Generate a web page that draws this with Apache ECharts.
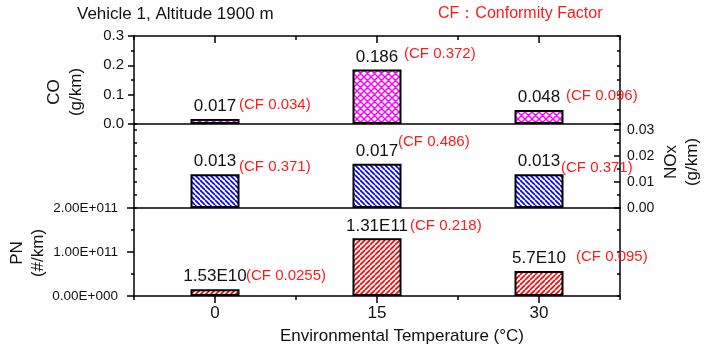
<!DOCTYPE html>
<html>
<head>
<meta charset="utf-8">
<script src="https://cdn.jsdelivr.net/npm/echarts@6/dist/echarts.min.js"></script>
<style>
  html, body { margin: 0; padding: 0; background: #fff; }
  #chart { width: 704px; height: 352px; }
</style>
</head>
<body>
<div id="chart"></div>
<script>
// data
const temps = ['0', '15', '30'];
const coValues = [0.017, 0.186, 0.048];
const noxValues = [0.013, 0.017, 0.013];
const pnValues = [1.53e10, 1.31e11, 5.7e10];
const pnText = ['1.53E10', '1.31E11', '5.7E10'];
const coCF = [0.034, 0.372, 0.096];
const noxCF = [0.371, 0.486, 0.371];
const pnCF = [0.0255, 0.218, 0.095];

const coMax = 0.3;
const noxMax = 0.0323;
const pnMax = 2e11;

const FONT = 'Liberation Sans, Arial, sans-serif';
const INK = '#111';
const RED = '#ff1a1a';
const axisLine = { color: '#000', width: 1.5 };

// hatch fill tiles
function hatch(color, size, lw, dirs) {
  const c = document.createElement('canvas');
  c.width = size;
  c.height = size;
  const ctx = c.getContext('2d');
  ctx.fillStyle = '#fff';
  ctx.fillRect(0, 0, size, size);
  ctx.strokeStyle = color;
  ctx.lineWidth = lw;
  ctx.beginPath();
  for (let k = -1; k <= 1; k++) {
    if (dirs.includes('/')) { ctx.moveTo(k * size, size); ctx.lineTo(k * size + size, 0); }
    if (dirs.includes('\\')) { ctx.moveTo(k * size, 0); ctx.lineTo(k * size + size, size); }
  }
  ctx.stroke();
  return { image: c, repeat: 'repeat' };
}

function sci(v) {
  if (v === 0) return '0.00E+000';
  const e = Math.floor(Math.log10(v) + 1e-9);
  return (v / Math.pow(10, e)).toFixed(2) + 'E+' + String(e).padStart(3, '0');
}

function catAxis(grid, position, extra) {
  return Object.assign({
    type: 'category', gridIndex: grid, position: position, data: temps, boundaryGap: true,
    axisLine: { show: false, onZero: false, lineStyle: axisLine },
    axisTick: { show: false },
    axisLabel: { show: false },
    splitLine: { show: false },
  }, extra);
}

function valAxis(grid, position, max, interval, extra) {
  return Object.assign({
    type: 'value', gridIndex: grid, position: position, min: 0, max: max, interval: interval,
    axisLine: { show: true, lineStyle: axisLine },
    axisTick: { show: true, inside: true, length: 3, lineStyle: axisLine },
    axisLabel: { show: false },
    splitLine: { show: false },
  }, extra);
}

const tickLabel = (size) => ({ fontSize: size, color: INK, fontFamily: FONT });

function barSeries(xi, yi, values, fill, texts) {
  return {
    type: 'bar', xAxisIndex: xi, yAxisIndex: yi, data: values, barWidth: 49, barGap: '-100%',
    itemStyle: { color: fill, borderColor: '#000', borderWidth: 2 },
    label: {
      show: true, position: 'top', distance: 4,
      fontSize: 17, lineHeight: 17, color: INK, fontFamily: FONT,
      formatter: (p) => texts[p.dataIndex],
    },
    silent: true,
  };
}

// CF notes sit on a transparent copy of the bars; offsets from bar top centre
function cfSeries(xi, yi, values, cf, offsets) {
  return {
    type: 'bar', xAxisIndex: xi, yAxisIndex: yi, barWidth: 49, barGap: '-100%', z: 3,
    itemStyle: { color: 'transparent' },
    data: values.map((v, i) => ({ value: v, label: { offset: offsets[i] } })),
    label: {
      show: true, position: 'top', distance: 0, align: 'left', verticalAlign: 'middle',
      fontSize: 15, color: RED, fontFamily: FONT,
      formatter: (p) => '(CF ' + cf[p.dataIndex] + ')',
    },
    silent: true,
  };
}

const chart = echarts.init(document.getElementById('chart'));

chart.setOption({
  animation: false,
  title: [
    {
      text: 'Vehicle 1, Altitude 1900 m', left: 77, top: 6, padding: 0,
      textStyle: { fontSize: 17, fontWeight: 'normal', color: INK, fontFamily: FONT },
    },
    {
      text: 'CF：Conformity Factor', left: 438, top: 6, padding: 0,
      textStyle: { fontSize: 16, fontWeight: 'normal', color: RED, fontFamily: FONT },
    },
  ],
  grid: [
    { left: 134, right: 84, top: 36, height: 88 },
    { left: 134, right: 84, top: 124, height: 84 },
    { left: 134, right: 84, top: 208, height: 88 },
  ],
  xAxis: [
    catAxis(0, 'top', {
      axisLine: { show: true, onZero: false, lineStyle: axisLine },
      axisTick: { show: true, alignWithLabel: true, inside: true, length: 7, interval: 0, lineStyle: axisLine },
    }),
    // moved onto the top edge for the short ticks between categories
    catAxis(0, 'bottom', {
      offset: -88,
      axisTick: { show: true, inside: false, length: 4, interval: 0, lineStyle: axisLine },
    }),
    catAxis(1, 'top', { axisLine: { show: true, onZero: false, lineStyle: axisLine } }),
    catAxis(1, 'bottom', { axisLine: { show: true, onZero: false, lineStyle: axisLine } }),
    catAxis(2, 'top', {
      offset: -88,
      axisTick: { show: true, inside: true, length: 4, interval: 0, lineStyle: axisLine },
    }),
    catAxis(2, 'bottom', {
      axisLine: { show: true, onZero: false, lineStyle: axisLine },
      axisTick: { show: true, alignWithLabel: true, length: 7, interval: 0, lineStyle: axisLine },
      axisLabel: Object.assign({ show: true, margin: 9, interval: 0 }, tickLabel(17)),
      name: 'Environmental Temperature (°C)',
      nameLocation: 'middle',
      nameGap: 32,
      nameTextStyle: { fontSize: 17, color: INK, fontFamily: FONT, padding: [0, 0, 0, 50] },
    }),
  ],
  yAxis: [
    valAxis(0, 'left', coMax, 0.1, {
      axisTick: { show: true, inside: false, length: 6, lineStyle: axisLine },
      minorTick: { show: true, splitNumber: 2, length: 3, lineStyle: axisLine },
      axisLabel: Object.assign({ show: true, margin: 10, formatter: (v) => v.toFixed(1) }, tickLabel(15)),
    }),
    valAxis(0, 'right', coMax, 0.05),
    valAxis(1, 'left', noxMax, 0.005),
    valAxis(1, 'right', noxMax, 0.01, {
      axisTick: { show: true, inside: true, length: 6, lineStyle: axisLine },
      minorTick: { show: true, splitNumber: 2, length: 3, lineStyle: axisLine },
      axisLabel: Object.assign({
        show: true, inside: false, margin: 7,
        formatter: (v) => (Math.abs(v * 100 - Math.round(v * 100)) < 1e-6 ? v.toFixed(2) : ''),
      }, tickLabel(14)),
    }),
    valAxis(2, 'left', pnMax, 1e11, {
      axisTick: { show: true, inside: false, length: 7, lineStyle: axisLine },
      minorTick: { show: true, splitNumber: 2, length: 3, lineStyle: axisLine },
      axisLabel: Object.assign({ show: true, margin: 16, formatter: sci }, tickLabel(13.5)),
    }),
    valAxis(2, 'right', pnMax, 5e10),
  ],
  series: [
    barSeries(0, 0, coValues, hatch('#ff00ff', 7, 1.5, '/\\'), coValues.map(String)),
    cfSeries(0, 0, coValues, coCF, [[24, -14], [27, -16], [27, -14]]),
    barSeries(2, 2, noxValues, hatch('#0000ff', 5, 1.6, '\\'), noxValues.map(String)),
    cfSeries(2, 2, noxValues, noxCF, [[24, -7], [21, -22], [22, -6]]),
    barSeries(5, 4, pnValues, hatch('#ff0000', 5, 1.6, '/'), pnText),
    cfSeries(5, 4, pnValues, pnCF, [[31, -13], [33, -13], [37, -14]]),
  ],
  graphic: [
    {
      type: 'text', x: 65, y: 92, rotation: Math.PI / 2, silent: true,
      style: { text: 'CO\n(g/km)', fontSize: 17, lineHeight: 22, fontFamily: FONT, fill: INK, align: 'center', verticalAlign: 'middle' },
    },
    {
      type: 'text', x: 682, y: 162, rotation: Math.PI / 2, silent: true,
      style: { text: 'NOx\n(g/km)', fontSize: 17, lineHeight: 21, fontFamily: FONT, fill: INK, align: 'center', verticalAlign: 'middle' },
    },
    {
      type: 'text', x: 28, y: 253, rotation: Math.PI / 2, silent: true,
      style: { text: 'PN\n(#/km)', fontSize: 17, lineHeight: 21, fontFamily: FONT, fill: INK, align: 'center', verticalAlign: 'middle' },
    },
  ],
});
</script>
</body>
</html>
